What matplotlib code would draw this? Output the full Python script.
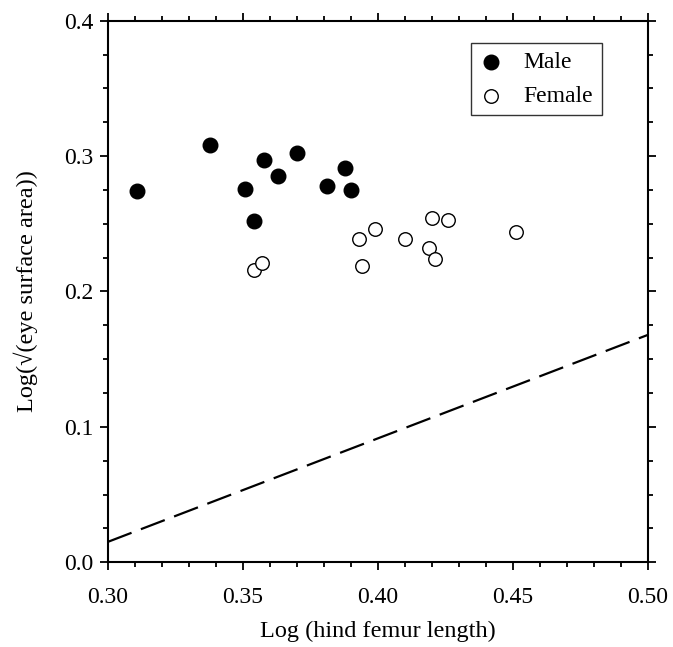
import matplotlib
matplotlib.use("Agg")
import matplotlib.pyplot as plt
from matplotlib.ticker import MultipleLocator

plt.rcParams['font.family'] = ['Liberation Serif', 'DejaVu Serif']

male_x = [0.311, 0.338, 0.351, 0.354, 0.358, 0.363, 0.370, 0.381, 0.388, 0.390]
male_y = [0.274, 0.308, 0.276, 0.252, 0.297, 0.285, 0.302, 0.278, 0.291, 0.275]

female_x = [0.354, 0.357, 0.393, 0.399, 0.394, 0.410, 0.420, 0.426, 0.419, 0.421, 0.451]
female_y = [0.216, 0.221, 0.239, 0.246, 0.219, 0.239, 0.254, 0.253, 0.232, 0.224, 0.244]

line_x = [0.30, 0.50]
line_y = [0.015, 0.168]

fig = plt.figure(figsize=(6.73, 6.47), dpi=100)
ax = fig.add_axes([0.160, 0.131, 0.803, 0.837])

ax.plot(line_x, line_y, color='black', lw=1.6, dashes=(11.5, 4.5))
ax.scatter(male_x, male_y, s=110, color='black', label='Male', zorder=3)
ax.scatter(female_x, female_y, s=95, facecolor='white', edgecolor='black',
           linewidth=1.0, label='Female', zorder=3)

ax.set_xlim(0.30, 0.50)
ax.set_ylim(0.0, 0.4)
ax.xaxis.set_major_locator(MultipleLocator(0.05))
ax.xaxis.set_minor_locator(MultipleLocator(0.01))
ax.yaxis.set_major_locator(MultipleLocator(0.1))
ax.yaxis.set_minor_locator(MultipleLocator(0.025))
ax.xaxis.set_major_formatter(plt.FormatStrFormatter('%.2f'))
ax.yaxis.set_major_formatter(plt.FormatStrFormatter('%.1f'))

ax.tick_params(which='both', direction='out', top=True, right=True,
               labelsize=17, width=1.3)
ax.tick_params(which='major', length=6)
ax.tick_params(which='minor', length=3.5)
ax.tick_params(axis='x', which='major', pad=12)
ax.tick_params(axis='y', which='major', pad=4)
for s in ax.spines.values():
    s.set_linewidth(1.5)

ax.set_xlabel('Log (hind femur length)', fontsize=17.5, labelpad=9)
ax.set_ylabel('Log(\u221a(eye surface area))', fontsize=17.5, labelpad=19)

leg = ax.legend(loc='upper right', bbox_to_anchor=(0.914, 0.959),
                borderaxespad=0, fontsize=17, frameon=True, fancybox=False,
                handlelength=1.0, handletextpad=0.9, borderpad=0.35,
                labelspacing=0.55)
leg.get_frame().set_edgecolor('black')
leg.get_frame().set_linewidth(1.0)

fig.savefig('out.png', dpi=100)
